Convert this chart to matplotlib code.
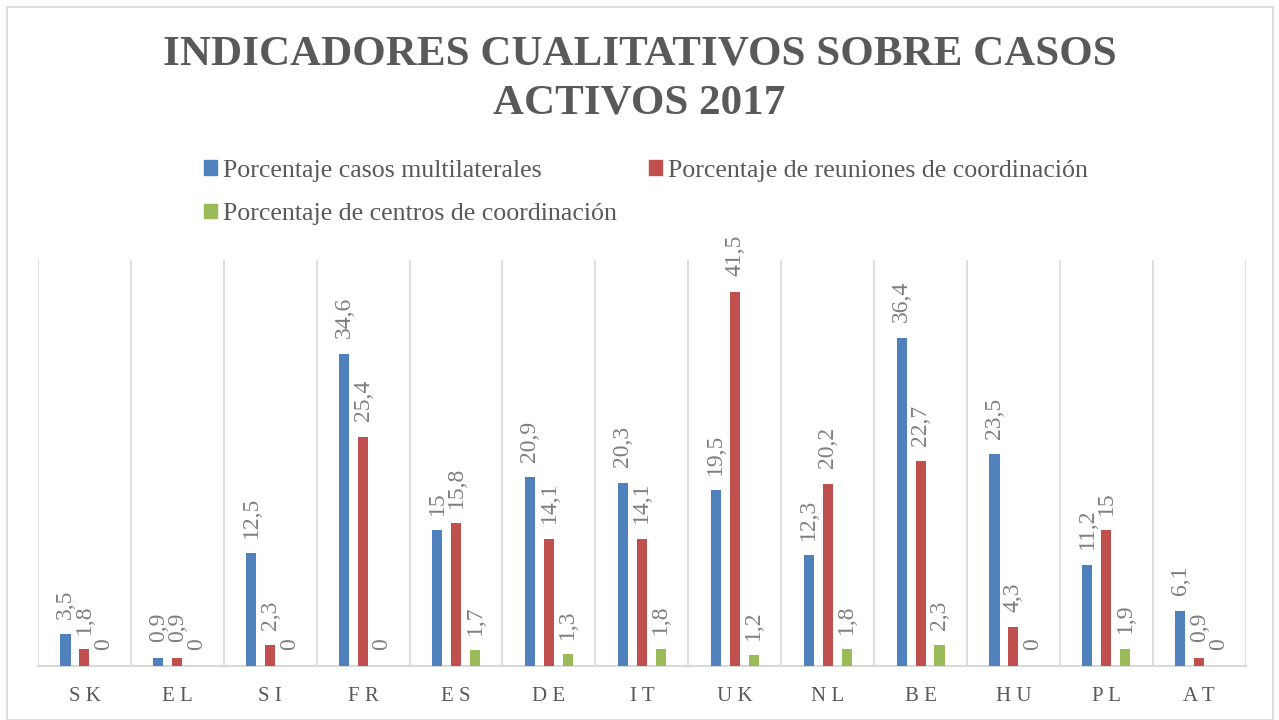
import matplotlib
matplotlib.use("Agg")
import matplotlib.pyplot as plt
import numpy as np
from matplotlib.patches import Rectangle, Patch

categories = ["SK", "EL", "SI", "FR", "ES", "DE", "IT", "UK", "NL", "BE", "HU", "PL", "AT"]
multilaterales = [3.5, 0.9, 12.5, 34.6, 15, 20.9, 20.3, 19.5, 12.3, 36.4, 23.5, 11.2, 6.1]
reuniones = [1.8, 0.9, 2.3, 25.4, 15.8, 14.1, 14.1, 41.5, 20.2, 22.7, 4.3, 15, 0.9]
centros = [0, 0, 0, 0, 1.7, 1.3, 1.8, 1.2, 1.8, 2.3, 0, 1.9, 0]
series_names = ["Porcentaje casos multilaterales",
                "Porcentaje de reuniones de coordinación",
                "Porcentaje de centros de coordinación"]
title = "INDICADORES CUALITATIVOS SOBRE CASOS\nACTIVOS 2017"

colors = ["#4F81BD", "#C0504D", "#9BBB59"]
text_col = "#595959"
label_col = "#7F7F7F"
grid_col = "#D9D9D9"
serif = ["Liberation Serif", "DejaVu Serif"]

W, H = 1279, 720
fig = plt.figure(figsize=(W / 100, H / 100), dpi=100)
fig.patch.set_facecolor("white")

# outer frame
fig.patches.append(Rectangle((7 / W, 0), (1273 - 7) / W, (H - 7) / H,
                             transform=fig.transFigure, fill=False,
                             edgecolor=grid_col, linewidth=1.2))

ax = fig.add_axes([38 / W, 1 - 665.7 / H, (1245.7 - 38) / W, (665.7 - 260) / H])
x = np.arange(len(categories))
bw = 0.108
off = 0.204
data = [multilaterales, reuniones, centros]
for i, (vals, c) in enumerate(zip(data, colors)):
    pos = x + (i - 1) * off
    ax.bar(pos, vals, width=bw, color=c, zorder=3)
    for xp, v in zip(pos, vals):
        lab = ("%g" % v).replace(".", ",")
        ax.annotate(lab, (xp, v), xytext=(0, 11), textcoords="offset points",
                    rotation=90, ha="center", va="bottom", fontsize=17,
                    color=label_col, family=serif)

ax.set_xlim(-0.5, len(categories) - 0.5)
ax.set_ylim(0, 45)
for k in range(len(categories) + 1):
    ax.axvline(k - 0.5, color=grid_col, linewidth=1.2, zorder=1)
for s in ["top", "right", "left"]:
    ax.spines[s].set_visible(False)
ax.spines["bottom"].set_color(grid_col)
ax.spines["bottom"].set_linewidth(1.5)
ax.set_yticks([])
ax.set_xticks(x)
ax.set_xticklabels([" ".join(c) for c in categories], fontsize=15, color=text_col, family=serif)
ax.tick_params(axis="x", length=0, pad=15)

fig.text(0.5, 1 - 79 / H, title, ha="center", va="center", fontsize=31,
         fontweight="bold", color=text_col, family=serif, linespacing=1.38)

leg_kw = dict(frameon=False, prop={"family": serif, "size": 18.6},
              handlelength=0.5, handleheight=0.5, handletextpad=0.25,
              labelspacing=0.82, labelcolor=text_col, borderpad=0,
              borderaxespad=0, loc="upper left")
leg1 = fig.legend([Patch(color=colors[0]), Patch(color=colors[2])],
                  [series_names[0], series_names[2]],
                  bbox_to_anchor=(204 / W, 1 - 160 / H), **leg_kw)
leg2 = fig.legend([Patch(color=colors[1])], [series_names[1]],
                  bbox_to_anchor=(649 / W, 1 - 160 / H), **leg_kw)

fig.savefig("out.png", dpi=100)
